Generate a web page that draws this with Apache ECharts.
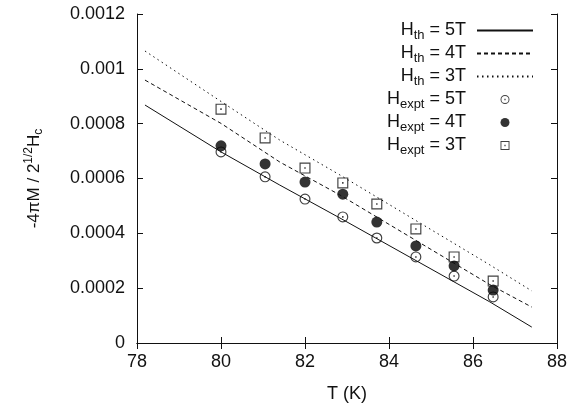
<!DOCTYPE html>
<html>
<head>
<meta charset="utf-8">
<script src="https://cdn.jsdelivr.net/npm/echarts@6/dist/echarts.min.js"></script>
<style>html,body{margin:0;padding:0;background:#fff}#c{width:585px;height:408px}</style>
</head>
<body>
<div id="c"></div>
<script>
// ---- data ----
const xTicks = [78, 80, 82, 84, 86, 88];
const yTicks = [0, 0.0002, 0.0004, 0.0006, 0.0008, 0.001, 0.0012];
const thTemps = [78.19, 80, 81.4, 82.83, 86.4, 87.4];
const th5T = [0.000868, 0.000697, 0.000576, 0.000456, 0.000150, 0.000058];
const th4T = [0.000959, 0.000801, 0.000660, 0.000540, 0.000213, 0.000131];
const th3T = [0.001065, 0.000881, 0.000740, 0.000613, 0.000285, 0.000190];
const exTemps = [80, 81.05, 82, 82.9, 83.71, 84.64, 85.55, 86.48];
const ex5T = [0.000697, 0.000606, 0.000525, 0.000460, 0.000383, 0.000314, 0.000244, 0.000168];
const ex4T = [0.000719, 0.000653, 0.000587, 0.000543, 0.000441, 0.000354, 0.000281, 0.000193];
const ex3T = [0.000853, 0.000748, 0.000638, 0.000584, 0.000507, 0.000416, 0.000314, 0.000226];
const names = ['Hth5', 'Hth4', 'Hth3', 'Hex5', 'Hex4', 'Hex3'];
const legendLabels = {
  Hth5: ['th', '5T'], Hth4: ['th', '4T'], Hth3: ['th', '3T'],
  Hex5: ['expt', '5T'], Hex4: ['expt', '4T'], Hex3: ['expt', '3T']
};

const pair = (xs, ys) => xs.map((x, i) => [x, ys[i]]);
const FONT = 'Liberation Sans, Arial, Helvetica, sans-serif';
const INK = '#111';

const ringCircle = 'path://M0,-10A10,10 0 1,1 0,10A10,10 0 1,1 0,-10Z M0,-7.9A7.9,7.9 0 1,0 0,7.9A7.9,7.9 0 1,0 0,-7.9Z M-1.4,-1.4h2.8v2.8h-2.8Z';
const ringSquare = 'path://M-10,-10H10V10H-10Z M-7.9,-7.9V7.9H7.9V-7.9Z M-1.4,-1.4h2.8v2.8h-2.8Z';

const chart = echarts.init(document.getElementById('c'), null, {renderer: 'canvas'});
const axisCommon = {
  type: 'value',
  axisLine: {show: true, lineStyle: {color: INK, width: 1}},
  axisTick: {show: true, inside: true, length: 6, lineStyle: {color: INK, width: 1}},
  splitLine: {show: false}
};
const xMin = xTicks[0], xMax = xTicks[xTicks.length - 1], xInt = xTicks[1] - xTicks[0];
const yMin = yTicks[0], yMax = yTicks[yTicks.length - 1], yInt = yTicks[1] - yTicks[0];

const legendData = names.map(n => n.indexOf('Hth') === 0
  ? {name: n, itemStyle: {opacity: 0}}
  : {name: n});

chart.setOption({
  animation: false,
  backgroundColor: '#fff',
  textStyle: {fontFamily: FONT},
  grid: {left: 137, right: 28, top: 14, bottom: 65},
  xAxis: [
    Object.assign({}, axisCommon, {
      min: xMin, max: xMax, interval: xInt,
      axisLabel: {color: INK, fontSize: 18, margin: 10, fontFamily: FONT},
      name: 'T (K)', nameLocation: 'middle', nameGap: 42,
      nameTextStyle: {color: INK, fontSize: 18, fontFamily: FONT}
    }),
    Object.assign({}, axisCommon, {
      position: 'top', min: xMin, max: xMax, interval: xInt,
      axisLabel: {show: false}
    })
  ],
  yAxis: [
    Object.assign({}, axisCommon, {
      min: yMin, max: yMax, interval: yInt,
      axisLabel: {color: INK, fontSize: 18, margin: 12, fontFamily: FONT,
        formatter: v => String(+v.toFixed(4))},
      name: '{m|-4πM / 2}{sup|1/2}{m|H}{sub|c}', nameLocation: 'middle', nameGap: 92,
      nameTextStyle: {color: INK, fontSize: 17, fontFamily: FONT,
        rich: {
          m: {fontSize: 17, color: INK, fontFamily: FONT, lineHeight: 22},
          sup: {fontSize: 12, color: INK, fontFamily: FONT, lineHeight: 22, padding: [0, 0, 10, 0]},
          sub: {fontSize: 12, color: INK, fontFamily: FONT, lineHeight: 22, padding: [10, 0, 0, 0]}
        }}
    }),
    Object.assign({}, axisCommon, {
      position: 'right', min: yMin, max: yMax, interval: yInt,
      axisLabel: {show: false}
    })
  ],
  legend: {
    orient: 'vertical', right: 46, top: 14, align: 'right',
    itemWidth: 56, itemHeight: 9, itemGap: 0,
    data: legendData,
    formatter: name => '{m|H}{s|' + legendLabels[name][0] + '}{e| = ' + legendLabels[name][1] + '}',
    textStyle: {
      color: INK, fontFamily: FONT,
      rich: {
        m: {fontSize: 18, color: INK, fontFamily: FONT, lineHeight: 20},
        s: {fontSize: 13, color: INK, fontFamily: FONT, lineHeight: 20, padding: [10, 0, 0, 0]},
        e: {fontSize: 18, color: INK, fontFamily: FONT, lineHeight: 20, padding: [0, 6, 0, 0]}
      }
    }
  },
  series: [
    {name: 'Hth5', type: 'line', symbol: 'none', data: pair(thTemps, th5T),
     lineStyle: {color: INK, width: 1, type: 'solid'}, itemStyle: {color: INK}},
    {name: 'Hth4', type: 'line', symbol: 'none', data: pair(thTemps, th4T),
     lineStyle: {color: INK, width: 1, type: [4, 3]}, itemStyle: {color: INK}},
    {name: 'Hth3', type: 'line', symbol: 'none', data: pair(thTemps, th3T),
     lineStyle: {color: INK, width: 1, type: [1.5, 3.5]}, itemStyle: {color: INK}},
    {name: 'Hex5', type: 'scatter', symbol: ringCircle, symbolSize: 11, data: pair(exTemps, ex5T),
     itemStyle: {color: INK}},
    {name: 'Hex4', type: 'scatter', symbol: 'circle', symbolSize: 11, data: pair(exTemps, ex4T),
     itemStyle: {color: '#000'}},
    {name: 'Hex3', type: 'scatter', symbol: ringSquare, symbolSize: 11, data: pair(exTemps, ex3T),
     itemStyle: {color: '#111'}}
  ]
});
</script>
</body>
</html>
